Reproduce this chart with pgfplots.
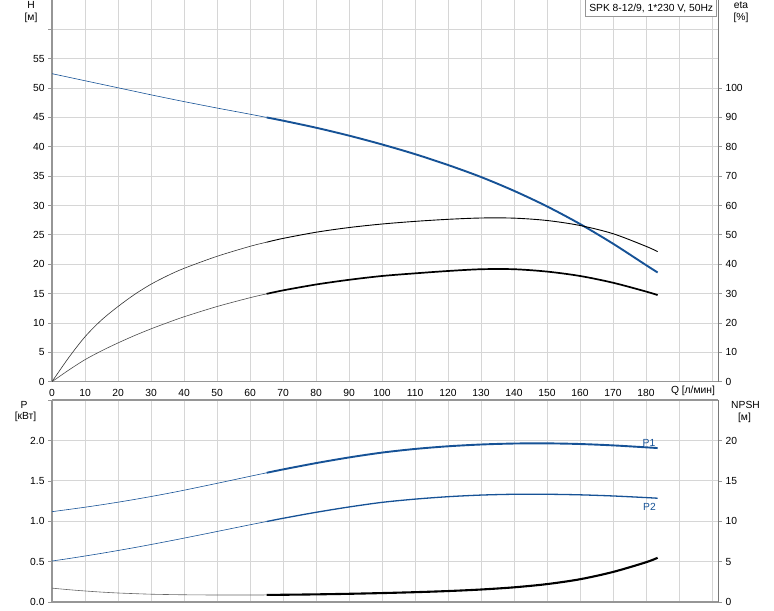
\documentclass[border=0pt]{standalone}
\usepackage{pgfplots}
\pgfplotsset{compat=1.18}
\usepackage{pgfplotstable}
\usepackage{fontspec}
\setmainfont{Liberation Sans}
\definecolor{gblue}{RGB}{22,82,150}
\definecolor{gridc}{RGB}{214,214,214}
\definecolor{axc}{RGB}{150,150,150}
\definecolor{axr}{RGB}{120,120,120}

\pgfplotstableread{
Q     H      etaU  etaL  P1     P2     NPSH
0     52.45  0.0   0.0   1.12   0.51   1.75
5     51.85  8.1   3.9   1.147  0.54   1.56
10    51.25  15.3  7.5   1.175  0.572  1.40
15    50.65  21.0  10.5  1.205  0.605  1.26
20    50.05  25.6  13.2  1.237  0.64   1.15
25    49.45  29.7  15.7  1.271  0.676  1.07
30    48.85  33.2  18.0  1.307  0.714  1.00
35    48.27  36.1  20.1  1.345  0.753  0.96
40    47.7   38.6  22.1  1.385  0.793  0.93
50    46.6   42.7  25.6  1.47   0.875  0.90
60    45.55  46.1  28.6  1.557  0.958  0.90
65    45.0   47.5  29.9  1.60   0.998  0.91
70    44.45  48.8  31.1  1.642  1.038  0.93
80    43.25  50.9  33.1  1.72   1.112  0.98
90    41.9   52.5  34.7  1.79   1.178  1.05
100   40.4   53.7  36.0  1.85   1.235  1.14
110   38.75  54.6  36.9  1.895  1.275  1.25
120   36.9   55.3  37.7  1.928  1.305  1.39
130   34.85  55.75 38.3  1.95   1.325  1.58
140   32.5   55.7  38.3  1.962  1.335  1.85
150   29.85  54.9  37.5  1.964  1.335  2.25
160   26.85  53.2  36.0  1.956  1.328  2.85
170   23.5   50.4  33.7  1.939  1.314  3.75
180   19.85  46.1  30.7  1.915  1.294  4.95
183.5 18.6   44.3  29.5  1.906  1.286  5.50
}\curves

\pgfplotsset{
  base/.style={
    scale only axis, width=666bp, xmin=0, xmax=201.8,
    ticklabel style={font=\fontsize{10.3bp}{12bp}\selectfont},
    tick align=outside, major tick length=4bp,
    every tick/.style={draw=axc, line width=0.8bp},
  },
  thin/.style={line width=0.6bp, smooth},
  thick/.style={line width=1.9bp, smooth},
}

\begin{document}
\begin{tikzpicture}[x=1bp,y=1bp]
\useasboundingbox (0,0) rectangle (774,611);

% ---------- top panel ----------
\begin{axis}[base,
  at={(52bp,229.3bp)}, anchor=south west, height=381.7bp,
  ymin=0, ymax=65,
  axis x line*=bottom, axis y line*=left,
  axis line style={draw=axc, line width=1.6bp, -},
  xtick={0,10,...,200},
  xticklabels={0,10,20,30,40,50,60,70,80,90,100,110,120,130,140,150,160,170,180,{},{}},
  x tick style={draw=none},
  ytick={0,5,...,60},
  yticklabels={0,5,10,15,20,25,30,35,40,45,50,55,{}},
  grid=major, grid style={draw=gridc, line width=0.9bp},
]
\addplot[gblue, thin] table[x=Q, y=H, restrict x to domain=0:65] {\curves};
\addplot[gblue, thick] table[x=Q, y=H, restrict x to domain=65:184] {\curves};
\end{axis}

\begin{axis}[base,
  at={(52bp,229.3bp)}, anchor=south west, height=381.7bp,
  ymin=0, ymax=130,
  axis x line=none, axis y line*=right,
  axis line style={draw=axr, line width=0.9bp, -},
  ytick={0,10,...,100},
  yticklabels={0,10,20,30,40,50,60,70,80,90,100},
]
\addplot[black!80, line width=0.6bp, smooth] table[x=Q, y=etaU, restrict x to domain=0:65] {\curves};
\addplot[black, line width=0.9bp, smooth] table[x=Q, y=etaU, restrict x to domain=65:184] {\curves};
\addplot[black!70, thin] table[x=Q, y=etaL, restrict x to domain=0:65] {\curves};
\addplot[black, line width=1.7bp, smooth] table[x=Q, y=etaL, restrict x to domain=65:184] {\curves};
\end{axis}

% ---------- bottom panel ----------
\begin{axis}[base,
  at={(52bp,8.7bp)}, anchor=south west, height=202.3bp,
  ymin=0, ymax=2.5, clip=false,
  axis x line*=bottom, axis y line*=left,
  axis line style={draw=axc, line width=1.6bp, -},
  xtick={0,10,...,200}, xticklabels={},
  x tick style={draw=none},
  ytick={0,0.5,...,2.5},
  yticklabels={0.0,0.5,1.0,1.5,2.0,{}},
  grid=major, grid style={draw=gridc, line width=0.9bp},
]
\draw[axc, line width=1.6bp] (rel axis cs:0,1) -- (rel axis cs:1,1);
\addplot[gblue, thin] table[x=Q, y=P1, restrict x to domain=0:65] {\curves};
\addplot[gblue, thick] table[x=Q, y=P1, restrict x to domain=65:184] {\curves};
\addplot[gblue, line width=0.6bp, smooth] table[x=Q, y=P2, restrict x to domain=0:65] {\curves};
\addplot[gblue, line width=1.3bp, smooth] table[x=Q, y=P2, restrict x to domain=65:184] {\curves};
\end{axis}

\begin{axis}[base,
  at={(52bp,8.7bp)}, anchor=south west, height=202.3bp,
  ymin=0, ymax=25,
  axis x line=none, axis y line*=right,
  axis line style={draw=axr, line width=0.9bp, -},
  ytick={0,5,...,20},
  yticklabels={0,5,10,15,20},
]
\addplot[black!60, thin] table[x=Q, y=NPSH, restrict x to domain=0:65] {\curves};
\addplot[black, line width=2.1bp, smooth] table[x=Q, y=NPSH, restrict x to domain=65:184] {\curves};
\end{axis}

% ---------- labels ----------
\begin{scope}[every node/.style={font=\fontsize{10.3bp}{12bp}\selectfont, inner sep=0pt}]
\node at (31,606) {H};
\node at (31,593) {[м]};
\node at (741,606) {eta};
\node at (741,593.5) {[\%]};
\node at (24,206) {P};
\node at (25.5,194) {[кВт]};
\node at (745.5,206) {NPSH};
\node at (744.5,193) {[м]};
\node at (693,220) {Q [л/мин]};
\node[draw=axc, fill=white, line width=0.8bp, minimum width=131bp, minimum height=16.5bp] at (651.2,603) {SPK 8-12/9, 1*230 V, 50Hz};
\node[text=gblue] at (649,168.5) {P1};
\node[text=gblue] at (649.5,104.5) {P2};
\end{scope}
\end{tikzpicture}
\end{document}
